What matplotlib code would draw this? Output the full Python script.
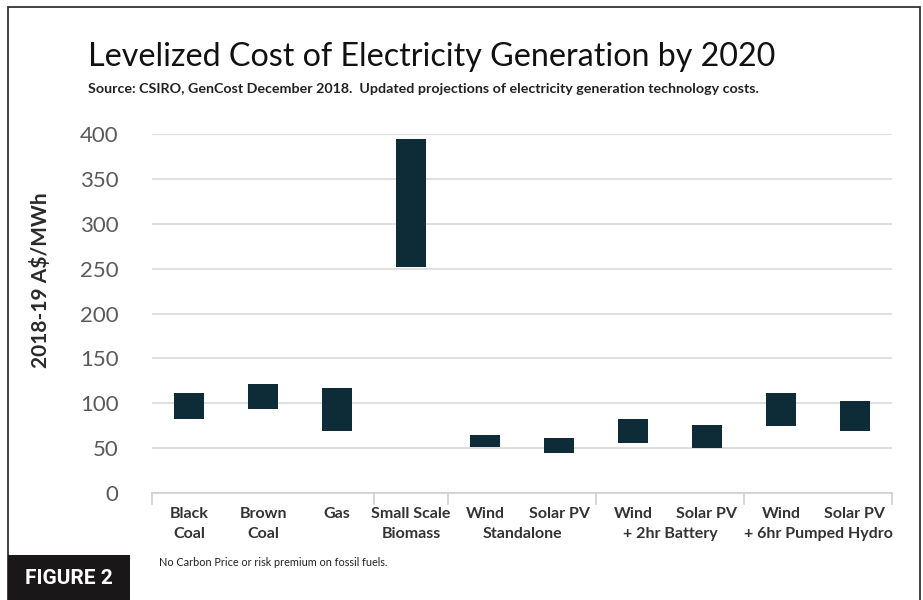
import matplotlib.pyplot as plt
import matplotlib.transforms as mtransforms
from matplotlib.patches import Rectangle
import numpy as np

# category labels (first line) and group labels (second line)
top_labels = ['Black', 'Brown', 'Gas', 'Small Scale', 'Wind', 'Solar PV',
              'Wind', 'Solar PV', 'Wind', 'Solar PV']
single_second = ['Coal', 'Coal', '', 'Biomass']
group_labels = ['Standalone', '+ 2hr Battery', '+ 6hr Pumped Hydro']

# LCOE ranges, A$/MWh
low = [82, 94, 69, 252, 51, 45, 56, 50, 75, 69]
high = [111, 121, 117, 395, 65, 61, 82, 76, 112, 103]

yticks = [0, 50, 100, 150, 200, 250, 300, 350, 400]

plt.rcParams['font.family'] = ['Lato', 'DejaVu Sans']

fig = plt.figure(figsize=(9.23, 6), dpi=100)
ax = fig.add_axes([0.1647, 0.1783, 0.8017, 0.5983])

x = np.arange(len(low))
heights = np.array(high) - np.array(low)
ax.bar(x, heights, bottom=low, width=0.4, color='#0d2c38', zorder=3)

ax.set_xlim(-0.5, len(low) - 0.5)
ax.set_ylim(0, 400)
ax.set_yticks(yticks)
ax.set_yticklabels([str(t) for t in yticks], fontsize=16, color='#5a5a5a')
ax.tick_params(axis='y', length=0, pad=24)
ax.set_xticks([])
ax.grid(axis='y', color='#d9d9d9', linewidth=1.2, zorder=0)
for s in ['top', 'right', 'left']:
    ax.spines[s].set_visible(False)
ax.spines['bottom'].set_color('#d0d0d0')
ax.spines['bottom'].set_linewidth(1.2)

ax.set_ylabel('2018-19 A$/MWh', fontsize=15, color='#2a2a2a', fontweight='bold')
ax.yaxis.set_label_coords(-0.137, 0.593)

# x labels
trans = mtransforms.blended_transform_factory(ax.transData, ax.transAxes)
lab_kw = dict(transform=trans, ha='center', va='center', fontsize=11.5,
              color='#333333', fontweight='bold')
for i, t in enumerate(top_labels):
    ax.text(x[i], -0.058, t, **lab_kw)
for i, t in enumerate(single_second):
    if t:
        ax.text(x[i], -0.113, t, **lab_kw)
for g, t in enumerate(group_labels):
    ax.text(4.5 + 2 * g, -0.113, t, **lab_kw)

# group separator ticks
for b in [-0.5, 2.5, 3.5, 5.5, 7.5, 9.5]:
    ax.plot([b, b], [0, -0.03], transform=trans, color='#d0d0d0',
            linewidth=1.2, clip_on=False)

fig.text(0.095, 0.905, 'Levelized Cost of Electricity Generation by 2020',
         fontsize=23.2, color='#111111', va='center')
fig.text(0.095, 0.852,
         'Source: CSIRO, GenCost December 2018.  Updated projections of '
         'electricity generation technology costs.',
         fontsize=10.3, fontweight='bold', color='#222222', va='center')
fig.text(0.172, 0.062, 'No Carbon Price or risk premium on fossil fuels.',
         fontsize=7.8, color='#222222', va='center')

# outer frame and figure badge
fig.patches.append(Rectangle((8 / 923, -0.01), 912 / 923, 1 - 7 / 600 + 0.01,
                             transform=fig.transFigure, fill=False,
                             edgecolor='#333333', linewidth=1.3))
fig.patches.append(Rectangle((8 / 923, 0), 122 / 923, 45 / 600,
                             transform=fig.transFigure, facecolor='#1a1718',
                             edgecolor='none'))
fig.text(69 / 923, 22 / 600, 'FIGURE 2', fontsize=15, fontweight='bold',
         color='white', ha='center', va='center', family='Roboto')

plt.savefig('out.png', dpi=100)
